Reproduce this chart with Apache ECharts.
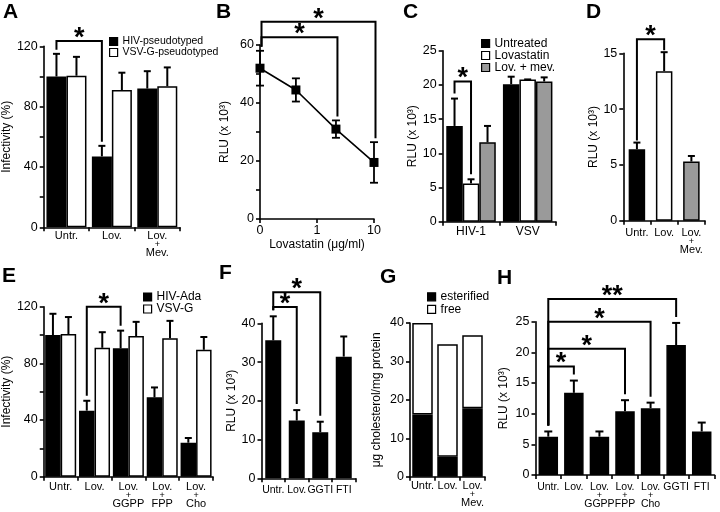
<!DOCTYPE html>
<html><head><meta charset="utf-8">
<script src="https://cdn.jsdelivr.net/npm/echarts@6/dist/echarts.min.js"></script>
<style>html,body{margin:0;padding:0;background:#fff}#c{width:720px;height:512px}</style>
</head><body><div id="c"></div>
<script>
// ================= DATA =================
// Panel A
const catA = ['Untr.', 'Lov.', 'Lov.\n+\nMev.'];
const aHIV = [100, 47, 92];
const aHIVsd = [15, 7, 11.5];
const aVSV = [100.5, 91, 93.5];
const aVSVsd = [12.5, 11.5, 12.5];
// Panel B
const bDose = [0, 0.63, 2.15, 10];
const bTickLabels = ['0', '1', '10'];
const bRLU = [52, 44.5, 31, 19.5];
const bSd = [6, 4, 3, 7];
// Panel C
const catC = ['HIV-1', 'VSV'];
const cUntreated = [14, 20.1];
const cUntreatedSd = [4, 1.1];
const cLov = [5.6, 20.8];
const cLovSd = [0.6, 0];
const cLovMev = [11.6, 20.5];
const cLovMevSd = [2.4, 0.6];
// Panel D
const catD = ['Untr.', 'Lov.', 'Lov.\n+\nMev.'];
const dRLU = [6.4, 13.4, 5.3];
const dSd = [0.6, 1.7, 0.5];
// Panel E
const catE = ['Untr.', 'Lov.', 'Lov.\n+\nGGPP', 'Lov.\n+\nFPP', 'Lov.\n+\nCho'];
const eHIV = [100, 46.6, 90.6, 56, 24];
const eHIVsd = [15, 7, 12.5, 7, 3.3];
const eVSV = [100.7, 91, 99.3, 97.7, 89.6];
const eVSVsd = [12, 11, 10, 12.3, 9];
// Panel F
const catF = ['Untr.', 'Lov.', 'GGTI', 'FTI'];
const fRLU = [35.6, 14.9, 11.9, 31.4];
const fSd = [6.2, 2.7, 2.7, 5.2];
// Panel G
const catG = ['Untr.', 'Lov.', 'Lov.\n+\nMev.'];
const gEsterified = [16.2, 5.2, 17.8];
const gFree = [23.8, 29.3, 19.0];
// Panel H
const catH = ['Untr.', 'Lov.', 'Lov.\n+\nGGPP', 'Lov.\n+\nFPP', 'Lov.\n+\nCho', 'GGTI', 'FTI'];
const hRLU = [6.25, 13.4, 6.25, 10.4, 10.9, 21.2, 7.1];
const hSd = [0.85, 2.0, 0.85, 1.8, 0.9, 3.6, 1.45];
// Significance brackets: [fromCat, fromSeries, toCat, toSeries, bracketLevel, label]
const sigA = [[0, 0, 1, 0, 123.5, '*']];
const sigB = [[0, 0, 3, 0, 68, '*'], [0, 0, 2, 0, 62.7, '*']];
const sigC = [[0, 0, 0, 1, 20.5, '*']];
const sigD = [[0, 0, 1, 0, 16.25, '*']];
const sigE = [[1, 0, 2, 0, 120, '*']];
const sigF = [[0, 0, 2, 0, 48, '*'], [0, 0, 1, 0, 44.2, '*']];
const sigH = [[0, 0, 5, 0, 28.7, '**'], [0, 0, 4, 0, 25, '*'], [0, 0, 3, 0, 20.6, '*'], [0, 0, 1, 0, 17.7, '*']];

// ================= STYLE / HELPERS =================
const FONT = 'Liberation Sans';
const BLACK = '#000', WHITE = '#fff', GRAY = '#9a9a9a';
const dFill = [BLACK, WHITE, GRAY];
const axisLine = { show: true, lineStyle: { color: BLACK, width: 1.6 } };
const axisTick = { show: true, length: 4, lineStyle: { color: BLACK, width: 1.6 } };
function richCat(fs) {
  return {
    a: { fontSize: fs, lineHeight: 13, color: BLACK, fontFamily: FONT },
    p: { fontSize: 9, lineHeight: 4, color: BLACK, fontFamily: FONT }
  };
}
const fmtCat = v => v.split('\n').map(t => t === '+' ? '{p|+}' : '{a|' + t + '}').join('\n');
const bPos = d => d <= 1 ? d : 1 + Math.log10(d);

function catX(gi, cats, margin, fs) {
  return {
    type: 'category', gridIndex: gi, data: cats, axisLine,
    axisTick: Object.assign({}, axisTick, { alignWithLabel: false }),
    axisLabel: { interval: 0, margin, formatter: fmtCat, rich: richCat(fs || 11), color: BLACK, hideOverlap: false },
    splitLine: { show: false }
  };
}
function valY(gi, max, interval, every, name, nameGap) {
  return {
    type: 'value', gridIndex: gi, min: 0, max, interval, axisLine, axisTick,
    splitLine: { show: false },
    axisLabel: { color: BLACK, fontSize: 12.5, fontFamily: FONT, margin: 6,
      formatter: v => (Math.round(v) % every === 0 ? String(v) : '') },
    name, nameLocation: 'middle', nameGap,
    nameTextStyle: { color: BLACK, fontSize: 12, fontFamily: FONT }
  };
}
function bar(gi, name, data, color, bw, stack) {
  return {
    type: 'bar', name, xAxisIndex: gi, yAxisIndex: gi, data, barWidth: bw, barGap: '0%',
    stack, itemStyle: { color, borderColor: BLACK, borderWidth: 1.5 }
  };
}
function errBars(gi, vals, sds, ser, n, bw, cap) {
  return {
    type: 'custom', xAxisIndex: gi, yAxisIndex: gi, z: 5, clip: false,
    data: vals.map((v, i) => [i, v, v + sds[i]]),
    renderItem(params, api) {
      const c = api.value(0);
      const p0 = api.coord([c, api.value(1)]), p1 = api.coord([c, api.value(2)]);
      const x = p0[0] + (ser - (n - 1) / 2) * bw;
      const st = { stroke: BLACK, lineWidth: 2 };
      return { type: 'group', children: [
        { type: 'line', shape: { x1: x, y1: p0[1], x2: x, y2: p1[1] }, style: st },
        { type: 'line', shape: { x1: x - cap, y1: p1[1], x2: x + cap, y2: p1[1] }, style: st }
      ] };
    }
  };
}
function brackets(gi, sigs, anchor) {
  return {
    type: 'custom', xAxisIndex: gi, yAxisIndex: gi, z: 6, clip: false,
    data: sigs.map(s => [s[0], s[4]]),
    renderItem(params, api) {
      const s = sigs[params.dataIndex];
      const L = anchor(api, s[0], s[1]), R = anchor(api, s[2], s[3]);
      const yTop = api.coord([s[0], s[4]])[1];
      return { type: 'group', children: [
        { type: 'polyline', shape: { points: [[L[0], L[1]], [L[0], yTop], [R[0], yTop], [R[0], R[1]]] },
          style: { stroke: BLACK, lineWidth: 2, fill: null } },
        { type: 'text', style: { text: s[5], x: (L[0] + R[0]) / 2, y: yTop - 2.5,
          fontSize: 27, fontWeight: 'bold', fontFamily: FONT, fill: BLACK,
          align: 'center', verticalAlign: 'middle' } }
      ] };
    }
  };
}
function barAnchor(valsList, sdsList, n, bw, gap) {
  return (api, cat, ser) => {
    const p = api.coord([cat, valsList[ser][cat] + sdsList[ser][cat]]);
    return [p[0] + (ser - (n - 1) / 2) * bw, p[1] - gap];
  };
}
function legend(names, left, top, fs, lh) {
  return {
    data: names, left, top, orient: 'vertical', padding: 0, itemGap: 0,
    itemWidth: 8, itemHeight: 8, icon: 'rect', selectedMode: false,
    itemStyle: { borderColor: BLACK, borderWidth: 1.2 },
    textStyle: { color: BLACK, fontSize: fs, lineHeight: lh, fontFamily: FONT }
  };
}

// ================= OPTION =================
const RLU = 'RLU (x 10³)';
const option = {
  animation: false,
  textStyle: { fontFamily: FONT },
  title: [['A', 3, 2], ['B', 216, 2], ['C', 403, 2], ['D', 586, 2],
          ['E', 2, 266], ['F', 219, 263], ['G', 380, 267], ['H', 497, 268]].map(
    ([t, l, tp]) => ({ text: t, left: l, top: tp, padding: 0,
      textStyle: { fontSize: 21, fontWeight: 'bold', color: BLACK, fontFamily: FONT } })),
  legend: [
    legend(['HIV-pseudotyped', 'VSV-G-pseudotyped'], 109, 36, 10.5, 10.7),
    legend(['Untreated', 'Lovastatin', 'Lov. + mev.'], 481, 37.5, 12, 10.3),
    legend(['HIV-Ada', 'VSV-G'], 143, 291, 12, 11.3),
    legend(['esterified', 'free'], 427, 290.5, 12, 12.6)
  ],
  grid: [
    { left: 43, top: 46.3, width: 137, height: 181 },
    { left: 260, top: 45, width: 114, height: 174 },
    { left: 442.7, top: 50.7, width: 113.3, height: 171 },
    { left: 623.3, top: 53.3, width: 81.7, height: 167.4 },
    { left: 40, top: 306.7, width: 173, height: 170 },
    { left: 261.5, top: 323.3, width: 94, height: 155 },
    { left: 410, top: 323, width: 75, height: 153.7 },
    { left: 535.5, top: 321.7, width: 179, height: 153.3 }
  ],
  xAxis: [
    catX(0, catA, 2),
    { type: 'value', gridIndex: 1, min: 0, max: 2, interval: 1, axisLine, axisTick,
      splitLine: { show: false },
      axisLabel: { color: BLACK, fontSize: 12.5, fontFamily: FONT, margin: 5,
        formatter: v => bTickLabels[Math.round(v)] },
      name: 'Lovastatin (μg/ml)', nameLocation: 'middle', nameGap: 20,
      nameTextStyle: { color: BLACK, fontSize: 12, fontFamily: FONT } },
    catX(2, catC, 3.5, 12),
    catX(3, catD, 6),
    catX(4, catE, 4),
    catX(5, catF, 5, 10.5),
    catX(6, catG, 3),
    catX(7, catH, 6, 10.5)
  ],
  yAxis: [
    valY(0, 120, 20, 40, 'Infectivity (%)', 19.5),
    valY(1, 60, 10, 20, RLU, 29),
    valY(2, 25, 5, 5, RLU, 23.5),
    valY(3, 15, 5, 5, RLU, 20.5),
    valY(4, 120, 20, 40, 'Infectivity (%)', 20.5),
    valY(5, 40, 10, 10, RLU, 18),
    valY(6, 40, 10, 10, 'μg cholesterol/mg protein', 27),
    valY(7, 25, 5, 5, RLU, 25.5)
  ],
  series: [
    // A
    bar(0, 'HIV-pseudotyped', aHIV, BLACK, 20),
    bar(0, 'VSV-G-pseudotyped', aVSV, WHITE, 20),
    errBars(0, aHIV, aHIVsd, 0, 2, 20, 3.5),
    errBars(0, aVSV, aVSVsd, 1, 2, 20, 3.5),
    brackets(0, sigA, barAnchor([aHIV, aVSV], [aHIVsd, aVSVsd], 2, 20, 4)),
    // B
    { type: 'line', xAxisIndex: 1, yAxisIndex: 1, data: bDose.map((d, i) => [bPos(d), bRLU[i]]),
      symbol: 'rect', symbolSize: 9, lineStyle: { color: BLACK, width: 1.6 }, itemStyle: { color: BLACK }, z: 4 },
    { type: 'custom', xAxisIndex: 1, yAxisIndex: 1, z: 5, clip: false,
      data: bDose.map((d, i) => [bPos(d), bRLU[i] - bSd[i], bRLU[i] + bSd[i]]),
      renderItem(params, api) {
        const lo = api.coord([api.value(0), api.value(1)]), hi = api.coord([api.value(0), api.value(2)]);
        const x = lo[0], c = 4, st = { stroke: BLACK, lineWidth: 1.8 };
        return { type: 'group', children: [
          { type: 'line', shape: { x1: x, y1: lo[1], x2: x, y2: hi[1] }, style: st },
          { type: 'line', shape: { x1: x - c, y1: lo[1], x2: x + c, y2: lo[1] }, style: st },
          { type: 'line', shape: { x1: x - c, y1: hi[1], x2: x + c, y2: hi[1] }, style: st }
        ] };
      } },
    brackets(1, sigB, (api, i) => {
      const p = api.coord([bPos(bDose[i]), bRLU[i] + bSd[i]]);
      return [p[0] + 1.5, p[1] - 4];
    }),
    // C
    bar(2, 'Untreated', cUntreated, BLACK, 16.5),
    bar(2, 'Lovastatin', cLov, WHITE, 16.5),
    bar(2, 'Lov. + mev.', cLovMev, GRAY, 16.5),
    errBars(2, cUntreated, cUntreatedSd, 0, 3, 16.5, 3.5),
    errBars(2, cLov, cLovSd, 1, 3, 16.5, 3.5),
    errBars(2, cLovMev, cLovMevSd, 2, 3, 16.5, 3.5),
    brackets(2, sigC, barAnchor([cUntreated, cLov, cLovMev], [cUntreatedSd, cLovSd, cLovMevSd], 3, 16.5, 5)),
    // D
    { type: 'bar', name: 'D', xAxisIndex: 3, yAxisIndex: 3, barWidth: 16.5,
      data: dRLU.map((v, i) => ({ value: v, itemStyle: { color: dFill[i] } })),
      itemStyle: { borderColor: BLACK, borderWidth: 1.5 } },
    errBars(3, dRLU, dSd, 0, 1, 16.5, 3.5),
    brackets(3, sigD, barAnchor([dRLU], [dSd], 1, 16.5, 2)),
    // E
    bar(4, 'HIV-Ada', eHIV, BLACK, 15.5),
    bar(4, 'VSV-G', eVSV, WHITE, 15.5),
    errBars(4, eHIV, eHIVsd, 0, 2, 15.5, 3.5),
    errBars(4, eVSV, eVSVsd, 1, 2, 15.5, 3.5),
    brackets(4, sigE, barAnchor([eHIV, eVSV], [eHIVsd, eVSVsd], 2, 15.5, 5)),
    // F
    bar(5, 'F', fRLU, BLACK, 16),
    errBars(5, fRLU, fSd, 0, 1, 16, 3.5),
    brackets(5, sigF, barAnchor([fRLU], [fSd], 1, 16, 6)),
    // G
    bar(6, 'esterified', gEsterified, BLACK, 20.5, 'g'),
    bar(6, 'free', gFree, WHITE, 20.5, 'g'),
    // H
    bar(7, 'H', hRLU, BLACK, 19.5),
    errBars(7, hRLU, hSd, 0, 1, 19.5, 4),
    brackets(7, sigH, barAnchor([hRLU], [hSd], 1, 19.5, 6))
  ]
};
const chart = echarts.init(document.getElementById('c'), null, { renderer: 'canvas' });
chart.setOption(option);
</script></body></html>
